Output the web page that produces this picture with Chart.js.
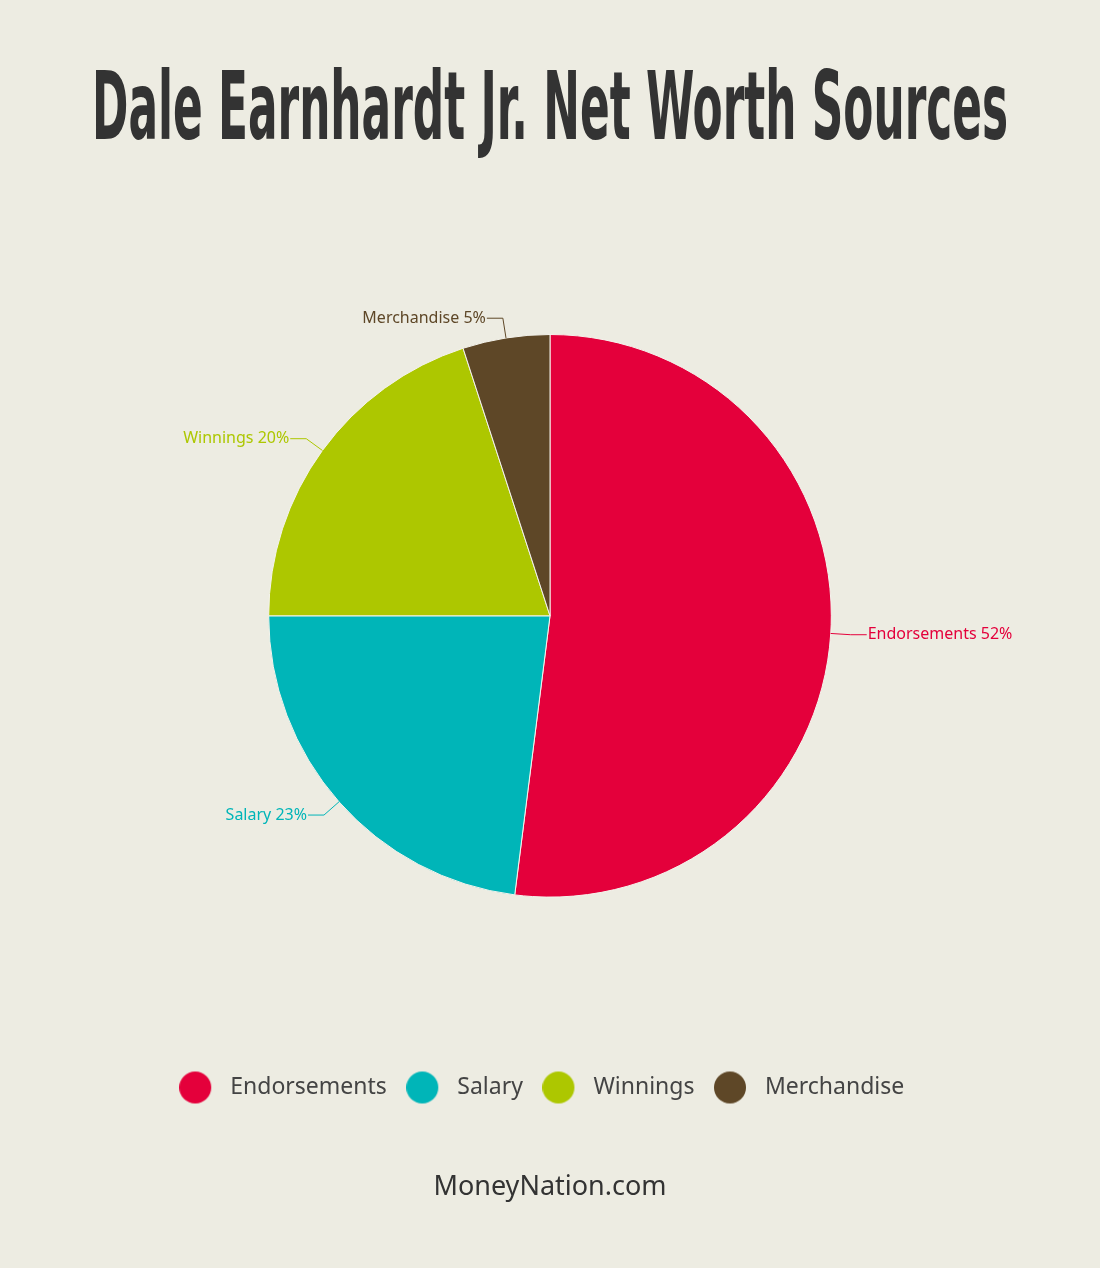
<!DOCTYPE html>
<html>
<head>
<meta charset="utf-8">
<script src="https://cdn.jsdelivr.net/npm/chart.js@4.4.0/dist/chart.umd.min.js"></script>
<style>
  html, body { margin: 0; padding: 0; background: #EDECE2; }
  body { width: 1100px; height: 1268px; position: relative; overflow: hidden; }
  #titulo {
    position: absolute; left: 0; top: 60px; margin: 0;
    font-family: "Liberation Sans Narrow", "DejaVu Sans Condensed", sans-serif;
    font-weight: bold; font-size: 94px; line-height: 1; color: #333333;
    white-space: nowrap; transform-origin: 0 0;
  }
  #grafico { position: absolute; left: 0; top: 0; }
  #rodape {
    position: absolute; left: 0; width: 1100px; top: 1169px; text-align: center;
    font-family: "Noto Sans", sans-serif; font-size: 27px; color: #333333; line-height: 1.2;
  }
</style>
</head>
<body>
<h1 id="titulo">Dale Earnhardt Jr. Net Worth Sources</h1>
<div style="position:absolute;left:0;top:0;width:1100px;height:1268px;">
  <canvas id="grafico"></canvas>
</div>
<div id="rodape">MoneyNation.com</div>
<script>
// dados
const categorias = ['Endorsements', 'Salary', 'Winnings', 'Merchandise'];
const percentuais = [52, 23, 20, 5];
const cores = ['#E4003B', '#00B5B8', '#ADC700', '#5E4727'];

// ajusta a largura do título (fonte condensada)
const titulo = document.getElementById('titulo');
const larguraAlvo = 916;
const escala = larguraAlvo / titulo.scrollWidth;
titulo.style.transform = 'scaleX(' + escala + ')';
titulo.style.left = ((1100 - larguraAlvo) / 2) + 'px';

// bolinha da legenda com deslocamento para a esquerda
function bolinha(cor) {
    const c = document.createElement('canvas');
    c.width = 56; c.height = 34;
    const g = c.getContext('2d');
    g.fillStyle = cor;
    g.beginPath();
    g.arc(16, 17, 16, 0, Math.PI * 2);
    g.fill();
    return c;
}
const bolinhas = cores.map(bolinha);

// rótulos com linha de chamada
const rotulosPlugin = {
    id: 'rotulos',
    afterDraw(chart) {
        const ctx = chart.ctx;
        const meta = chart.getDatasetMeta(0);
        ctx.save();
        ctx.font = '16px "Noto Sans", sans-serif';
        ctx.textBaseline = 'middle';
        ctx.lineWidth = 1;
        meta.data.forEach((arc, i) => {
            const p = arc.getProps(['x', 'y', 'startAngle', 'endAngle', 'outerRadius'], true);
            const meio = (p.startAngle + p.endAngle) / 2;
            const cos = Math.cos(meio), sin = Math.sin(meio);
            const x0 = p.x + p.outerRadius * cos, y0 = p.y + p.outerRadius * sin;
            const x1 = p.x + (p.outerRadius + 20) * cos, y1 = p.y + (p.outerRadius + 20) * sin;
            const lado = cos >= 0 ? 1 : -1;
            const x2 = x1 + lado * 16;
            ctx.strokeStyle = cores[i];
            ctx.fillStyle = cores[i];
            ctx.beginPath();
            ctx.moveTo(x0, y0);
            ctx.lineTo(x1, y1);
            ctx.lineTo(x2, y1);
            ctx.stroke();
            ctx.textAlign = lado > 0 ? 'left' : 'right';
            ctx.fillText(categorias[i] + ' ' + percentuais[i] + '%', x2 + lado * 1, y1);
        });
        ctx.restore();
    }
};

const ctx = document.getElementById('grafico').getContext('2d');
const grafico = new Chart(ctx, {
    type: 'pie',
    data: {
        labels: categorias,
        datasets: [{
            data: percentuais,
            backgroundColor: cores,
            borderColor: '#F4F3EC',
            borderWidth: 1
        }]
    },
    options: {
        responsive: true,
        maintainAspectRatio: false,
        animation: false,
        layout: { padding: { top: 334, bottom: 159, left: 0, right: 0 } },
        plugins: {
            tooltip: { enabled: false },
            legend: {
                display: true,
                position: 'bottom',
                title: { display: true, text: '', padding: { top: 128, bottom: 0 } },
                labels: {
                    usePointStyle: true,
                    boxWidth: 24,
                    boxHeight: 24,
                    padding: 36,
                    color: '#444444',
                    font: { family: '"Noto Sans", sans-serif', size: 23 },
                    generateLabels(chart) {
                        return categorias.map((nome, i) => ({
                            text: nome,
                            fillStyle: cores[i],
                            strokeStyle: cores[i],
                            lineWidth: 0,
                            pointStyle: bolinhas[i],
                            fontColor: '#444444',
                            hidden: false,
                            index: i
                        }));
                    }
                }
            }
        }
    },
    plugins: [rotulosPlugin]
});
</script>
</body>
</html>
